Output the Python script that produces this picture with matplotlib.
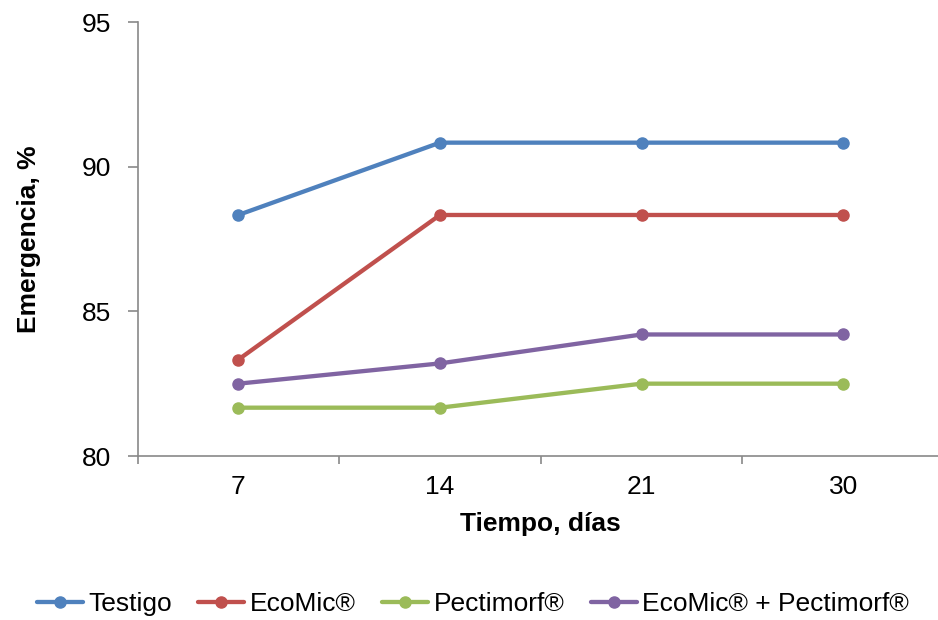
import matplotlib
matplotlib.use('Agg')
import matplotlib.pyplot as plt
from matplotlib.ticker import FixedLocator

plt.rcParams['font.family'] = ['Liberation Sans', 'DejaVu Sans']

# data
dias = ['7', '14', '21', '30']
testigo = [88.33, 90.83, 90.83, 90.83]
ecomic = [83.33, 88.33, 88.33, 88.33]
pectimorf = [81.67, 81.67, 82.5, 82.5]
ecomic_pect = [82.5, 83.2, 84.2, 84.2]

series = [
    ('Testigo', testigo, '#4F81BD'),
    ('EcoMic®', ecomic, '#C0504D'),
    ('Pectimorf®', pectimorf, '#9BBB59'),
    ('EcoMic® + Pectimorf®', ecomic_pect, '#8064A2'),
]

fig = plt.figure(figsize=(9.38, 6.2), dpi=100)
ax = fig.add_axes([137.5 / 938, 1 - 456 / 620, (944 - 137.5) / 938, (456 - 22) / 620])

x = list(range(len(dias)))
for name, vals, col in series:
    ax.plot(x, vals, color=col, lw=3.1, marker='o', markersize=8, label=name,
            solid_capstyle='round')

ax.set_xlim(-0.5, len(dias) - 0.5)
ax.set_ylim(80, 95)
ax.set_yticks([80, 85, 90, 95])
ax.set_xticks(x)
ax.set_xticklabels(dias)
ax.xaxis.set_minor_locator(FixedLocator([i - 0.5 for i in range(len(dias) + 1)]))

for s in ['top', 'right']:
    ax.spines[s].set_visible(False)
for s in ['left', 'bottom']:
    ax.spines[s].set_color('#898989')
    ax.spines[s].set_linewidth(1.2)

ax.tick_params(axis='x', which='major', length=0, pad=14, labelsize=19)
ax.tick_params(axis='x', which='minor', length=6, color='#898989', width=1.2)
ax.tick_params(axis='y', which='major', length=7, color='#898989', width=1.2,
               pad=12, labelsize=19)

ax.set_xlabel('Tiempo, días', fontsize=19, fontweight='bold', labelpad=9)
ax.set_ylabel('Emergencia, %', fontsize=19, fontweight='bold', labelpad=29)

fig.legend(loc='center', bbox_to_anchor=(0.504, 1 - 604 / 620), ncol=4,
           frameon=False, fontsize=19, handlelength=1.75, columnspacing=1.0,
           handletextpad=0.2, borderpad=0)

fig.savefig('out.png', dpi=100)
